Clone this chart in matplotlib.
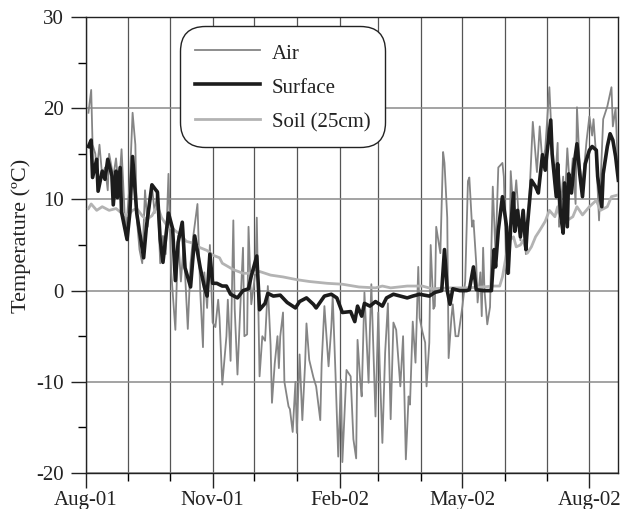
import matplotlib
matplotlib.use('Agg')
import matplotlib.pyplot as plt
import matplotlib.dates as mdates
from datetime import datetime, timedelta

start = datetime(2001, 8, 1)

# days since 1 Aug 2001, temperature (C)
air_day = [2, 4, 5, 7, 8, 10, 12, 14, 16, 17, 20, 22, 24, 26, 28, 29, 30, 32, 34, 36,
           37, 39, 41, 43, 45, 46, 48, 50, 52, 54, 56, 58, 60, 62, 65, 67, 69, 71, 74, 76,
           78, 81, 83, 85, 86, 88, 90, 92, 94, 96, 97, 99, 102, 103, 105, 107, 108, 110, 112, 114,
           115, 117, 118, 120, 123, 124, 126, 128, 130, 132, 134, 135, 137, 139, 140, 141, 143, 144, 147, 148,
           150, 152, 153, 155, 157, 159, 160, 162, 165, 167, 170, 171, 173, 176, 178, 179, 181, 183, 185, 186,
           188, 189, 192, 194, 196, 197, 199, 200, 202, 205, 206, 207, 210, 212, 213, 215, 217, 219, 221, 223,
           225, 228, 230, 232, 234, 235, 237, 239, 241, 242, 244, 246, 247, 249, 250, 252, 253, 254, 257, 259,
           260, 262, 263, 265, 266, 268, 270, 273, 275, 277, 278, 280, 281, 283, 284, 286, 287, 288, 289, 291,
           293, 295, 297, 299, 302, 303, 305, 307, 308, 310, 312, 315, 317, 319, 321, 324, 327, 329, 331, 333,
           336, 338, 340, 342, 343, 346, 347, 349, 351, 353, 355, 356, 358, 360, 363, 365, 367, 368, 370, 372,
           375, 378, 381, 382, 384, 386]
air_temp = [19.5, 22.0, 16.0, 15.0, 13.0, 16.0, 12.5, 13.5, 11.0, 15.0, 12.5, 14.5, 11.0, 15.5, 9.0, 6.0, 8.0, 12.0, 19.5, 16.0,
            8.0, 4.5, 3.0, 11.0, 7.0, 9.0, 11.5, 8.5, 11.0, 3.0, 6.0, 4.0, 12.8, 2.0, -4.3, 6.0, 1.0, 5.0, -4.2, 3.0,
            6.0, 9.5, 0.0, -6.2, 2.0, -1.9, 5.0, -3.5, -4.0, -1.0, -3.0, -10.3, -5.0, -1.0, -7.7, 7.7, -2.0, -9.2, -2.0, 4.7,
            -5.0, -4.8, 7.0, -1.5, 2.0, 8.0, -9.4, -5.0, -5.5, 0.5, -6.0, -12.3, -8.0, -5.0, -8.5, -5.0, -2.4, -10.0, -12.7, -13.0,
            -15.5, -10.0, -15.6, -7.0, -14.2, -8.0, -3.6, -7.6, -9.5, -10.5, -14.2, -8.0, -1.7, -8.3, -4.0, -0.6, -9.0, -18.2, -9.8, -18.8,
            -12.0, -8.7, -9.4, -16.3, -18.4, -5.4, -10.0, -11.6, -0.2, -10.1, -4.0, 0.7, -13.8, -2.4, -8.0, -16.7, -6.8, -1.4, -14.1, -3.5,
            -4.3, -10.5, -5.0, -18.5, -11.6, -12.5, -3.4, -7.9, 2.6, -3.0, -4.5, -5.7, -10.5, -5.7, 5.0, -2.0, -1.7, 7.0, 4.1, 15.2,
            14.0, 8.0, -7.4, -3.0, -1.5, -5.0, -5.0, -1.7, 1.0, 12.0, 12.4, 7.0, 7.7, 3.0, -1.3, 2.0, -2.8, 4.7, 0.0, -3.7,
            -1.8, 11.4, 4.0, 13.5, 14.0, 12.5, 1.9, 1.9, 13.1, 8.5, 12.1, 5.5, 8.0, 4.0, 8.5, 18.5, 13.0, 18.0, 14.0, 15.5,
            22.3, 15.7, 11.5, 16.2, 7.0, 12.5, 9.0, 15.6, 11.0, 14.5, 9.5, 20.1, 13.7, 11.5, 16.5, 19.1, 17.0, 18.8, 14.5, 7.7,
            18.8, 20.2, 22.3, 18.0, 20.0, 12.0]

surf_day = [2, 4, 5, 8, 9, 12, 14, 16, 19, 20, 22, 23, 25, 26, 30, 32, 34, 37, 39, 42,
            44, 48, 52, 54, 56, 60, 63, 65, 67, 70, 72, 76, 79, 83, 86, 88, 90, 92, 95, 99,
            102, 105, 110, 114, 118, 120, 124, 126, 130, 132, 136, 141, 146, 152, 155, 160, 165, 167, 173, 178,
            182, 186, 192, 195, 197, 200, 202, 206, 210, 215, 218, 223, 228, 233, 237, 242, 249, 253, 258, 260,
            262, 264, 266, 271, 276, 278, 281, 283, 288, 294, 296, 297, 299, 302, 305, 306, 308, 310, 311, 313,
            315, 317, 319, 320, 323, 326, 328, 331, 333, 334, 337, 338, 341, 342, 344, 346, 347, 349, 350, 352,
            354, 356, 358, 360, 362, 365, 367, 370, 371, 374, 375, 378, 380, 382, 384, 386]
surf_temp = [15.8, 16.5, 12.4, 14.4, 10.9, 13.1, 12.2, 14.4, 12.6, 9.4, 13.1, 10.2, 13.5, 8.6, 5.6, 8.5, 14.7, 8.5, 6.5, 3.6,
             7.0, 11.6, 10.8, 5.6, 3.1, 8.5, 6.8, 1.1, 5.3, 7.5, 2.5, 0.4, 6.0, 2.5, 0.4, -0.6, 4.0, 0.8, 0.8, 0.5,
             0.5, -0.4, -0.8, 0.0, 0.2, 1.6, 3.8, -2.1, -1.4, -0.3, -0.6, -0.5, -1.3, -1.9, -1.2, -0.8, -1.5, -1.9, -0.6, -0.4,
             -0.8, -2.4, -2.3, -3.4, -1.7, -2.8, -1.4, -1.7, -1.2, -1.7, -0.8, -0.4, -0.6, -0.8, -0.6, -0.4, -0.6, -0.2, 0.0, 4.5,
             0.0, -1.5, 0.2, 0.0, 0.0, 0.1, 2.6, 0.1, 0.0, 0.0, 4.5, 2.6, 6.6, 10.3, 7.0, 1.9, 7.0, 10.7, 6.5, 8.8,
             5.9, 8.8, 4.5, 7.0, 12.1, 11.4, 10.7, 14.9, 13.2, 14.7, 18.7, 15.0, 10.3, 13.9, 8.5, 6.3, 11.8, 7.0, 12.8, 10.7,
             13.9, 16.1, 12.8, 10.3, 13.9, 15.4, 15.8, 15.4, 12.5, 9.2, 12.8, 15.8, 17.2, 16.5, 14.7, 12.1]

soil_day = [2, 4, 8, 12, 17, 22, 26, 30, 34, 37, 41, 44, 48, 52, 55, 59, 63, 68, 73, 78,
            83, 88, 92, 97, 99, 107, 114, 121, 126, 134, 143, 153, 162, 175, 186, 198, 210, 215, 221, 233,
            244, 251, 264, 276, 288, 295, 300, 302, 305, 307, 310, 312, 315, 317, 320, 323, 326, 329, 333, 336,
            340, 342, 344, 349, 353, 356, 360, 365, 370, 373, 378, 381, 386]
soil_temp = [9.0, 9.5, 8.8, 9.2, 8.8, 9.0, 8.5, 8.2, 8.8, 9.0, 8.2, 7.8, 8.2, 9.3, 8.0, 7.1, 6.8, 6.2, 5.4, 5.2,
             4.7, 4.4, 3.9, 3.6, 3.0, 2.3, 1.9, 1.9, 2.1, 1.7, 1.5, 1.2, 1.0, 0.8, 0.7, 0.4, 0.3, 0.5, 0.3, 0.5,
             0.5, 0.2, 0.3, 0.3, 0.4, 0.5, 0.5, 1.5, 4.1, 5.5, 5.9, 4.8, 5.0, 5.5, 4.1, 4.8, 5.9, 6.6, 7.6, 8.8,
             8.1, 9.2, 7.7, 7.7, 8.1, 9.2, 8.3, 9.2, 9.9, 8.8, 9.2, 10.3, 10.5]


def to_dates(days):
    return [start + timedelta(days=d) for d in days]


plt.rcParams['font.family'] = ['Liberation Serif', 'DejaVu Serif']
plt.rcParams['axes.unicode_minus'] = False

fig = plt.figure(figsize=(6.29, 5.09), dpi=100)
ax = fig.add_axes([0.1362, 0.0707, 0.8458, 0.8959])

l_air, = ax.plot(to_dates(air_day), air_temp, color='#858585', lw=1.3, label='Air', zorder=3)
l_soil, = ax.plot(to_dates(soil_day), soil_temp, color='#b3b3b3', lw=2.0, label='Soil (25cm)', zorder=4)
l_surf, = ax.plot(to_dates(surf_day), surf_temp, color='#1c1c1c', lw=2.6, label='Surface', zorder=5)

ax.set_xlim(start, start + timedelta(days=385.5))
ax.set_ylim(-20, 30)
ax.set_yticks([-20, -10, 0, 10, 20, 30])
ax.set_yticks([-15, -5, 5, 15, 25], minor=True)

ax.xaxis.set_major_locator(mdates.MonthLocator(bymonth=[2, 5, 8, 11]))
ax.xaxis.set_minor_locator(mdates.MonthLocator())
ax.xaxis.set_major_formatter(mdates.DateFormatter('%b-%y'))

ax.grid(True, axis='x', which='both', color='#555555', lw=0.9, zorder=1)
ax.grid(True, axis='y', which='major', color='#8a8a8a', lw=1.1, zorder=1)

ax.tick_params(axis='both', which='major', direction='out', length=11, width=1.0,
               labelsize=15, colors='#222222')
ax.tick_params(axis='both', which='minor', direction='out', length=6, width=1.0)
ax.tick_params(axis='y', which='major', pad=5)
ax.tick_params(axis='x', which='major', pad=2)
for s in ax.spines.values():
    s.set_linewidth(1.0)
    s.set_color('#222222')

ax.set_ylabel('Temperature (ºC)', fontsize=16, color='#222222')
ax.yaxis.set_label_coords(-0.102, 0.52)

leg = ax.legend(handles=[l_air, l_surf, l_soil], loc='upper left',
                bbox_to_anchor=(0.176, 0.982), fontsize=15, handlelength=3.1,
                handleheight=1.25, handletextpad=0.6, labelspacing=0.55, borderpad=0.45,
                borderaxespad=0.3, fancybox=True, framealpha=1, edgecolor='#222222')
leg.get_frame().set_boxstyle('round', pad=0.25, rounding_size=1.2)
leg.get_frame().set_linewidth(1.0)
for t in leg.get_texts():
    t.set_color('#222222')
leg.set_zorder(10)

fig.savefig('out.png', dpi=100)
